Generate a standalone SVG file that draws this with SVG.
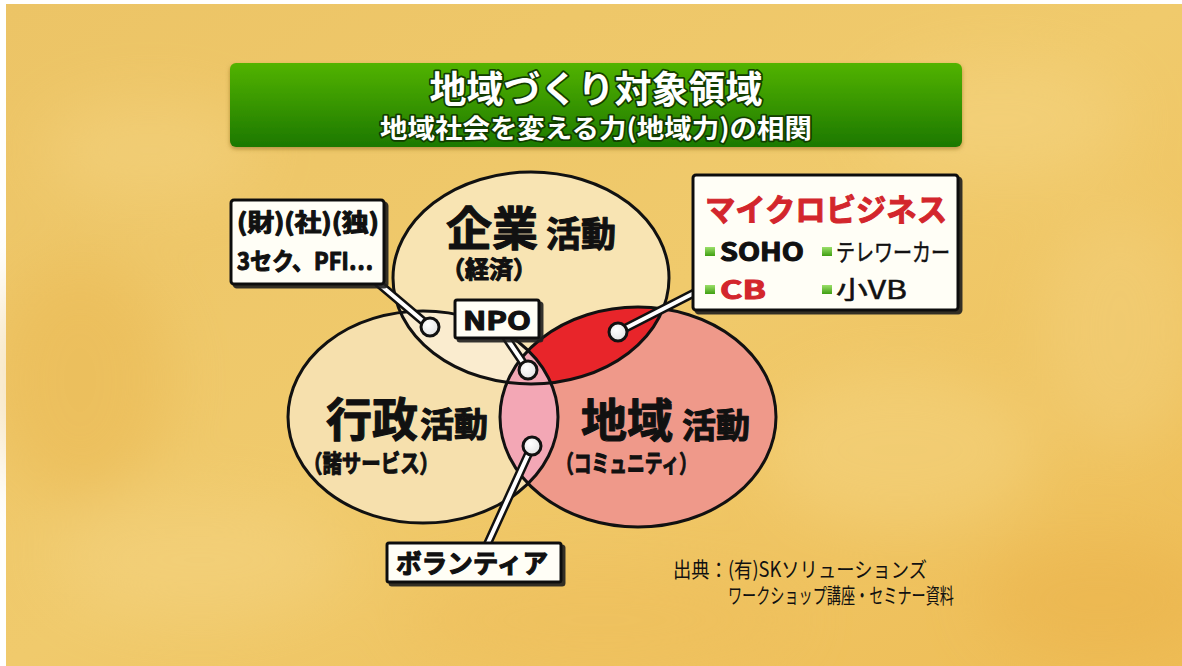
<svg xmlns="http://www.w3.org/2000/svg" width="1182" height="666" viewBox="0 0 1182 666">
<defs>
  <linearGradient id="bg" x1="0" y1="0" x2="1" y2="1">
    <stop offset="0" stop-color="#ecc466"/>
    <stop offset="0.5" stop-color="#f0ca6c"/>
    <stop offset="1" stop-color="#eebd56"/>
  </linearGradient>
  <filter id="blur" x="-50%" y="-50%" width="200%" height="200%"><feGaussianBlur stdDeviation="30"/></filter>
  <linearGradient id="green" x1="0" y1="0" x2="0" y2="1">
    <stop offset="0" stop-color="#52b300"/>
    <stop offset="1" stop-color="#1c7800"/>
  </linearGradient>
  <linearGradient id="bullet" x1="0" y1="0" x2="0" y2="1">
    <stop offset="0" stop-color="#9be06a"/>
    <stop offset="1" stop-color="#3f9e12"/>
  </linearGradient>
  <radialGradient id="dotg" cx="0.4" cy="0.35" r="0.7">
    <stop offset="0" stop-color="#ffffff"/>
    <stop offset="1" stop-color="#e2e2e2"/>
  </radialGradient>
  <clipPath id="cK"><ellipse cx="531" cy="278" rx="138" ry="106"/></clipPath>
  <clipPath id="cG"><ellipse cx="423" cy="417" rx="135" ry="106"/></clipPath>
  <filter id="shadow" x="-10%" y="-10%" width="130%" height="140%"><feDropShadow dx="3" dy="3" stdDeviation="0.6" flood-color="#1a1a1a" flood-opacity="0.9"/></filter>
  <filter id="tshadow" x="-5%" y="-10%" width="110%" height="130%"><feDropShadow dx="0" dy="2" stdDeviation="2" flood-color="#7a5a10" flood-opacity="0.5"/></filter>
  <style>
    .jp { font-family: "Noto Sans CJK JP", "Noto Sans", sans-serif; }
    .b { font-weight: 700; }
    .ttl { fill: #ffffff; stroke: #123d00; stroke-width: 3.5; paint-order: stroke; stroke-linejoin: round; font-weight: 700; }
    .ell { fill: none; stroke: #111; stroke-width: 3; }
    .box { fill: #fffef6; stroke: #111; stroke-width: 3; filter: url(#shadow); }
    .cb { stroke: #111; stroke-width: 9; stroke-linecap: round; fill: none; }
    .cw { stroke: #fff; stroke-width: 4; stroke-linecap: round; fill: none; }
    .dot { fill: url(#dotg); stroke: #111; stroke-width: 3; }
    .blk { fill: #111; }
    .hv { stroke: #111; stroke-width: 1.1; stroke-linejoin: round; }
    .red { fill: #d3262c; stroke: #d3262c; stroke-width: 1; stroke-linejoin: round; }
    .bul { fill: url(#bullet); }
  </style>
</defs>

<!-- background -->
<rect x="0" y="0" width="1182" height="666" fill="#ffffff"/>
<rect x="6" y="4" width="1176" height="662" fill="url(#bg)"/>
<g filter="url(#blur)" opacity="0.45">
  <ellipse cx="150" cy="150" rx="110" ry="50" fill="#f5d584"/>
  <ellipse cx="1000" cy="120" rx="130" ry="60" fill="#f5d584"/>
  <ellipse cx="900" cy="450" rx="140" ry="80" fill="#f5d786"/>
  <ellipse cx="200" cy="560" rx="150" ry="60" fill="#f4d484"/>
  <ellipse cx="1100" cy="600" rx="120" ry="60" fill="#eab04a"/>
  <ellipse cx="80" cy="380" rx="90" ry="120" fill="#e9b650"/>
  <ellipse cx="600" cy="620" rx="200" ry="50" fill="#eebd5a"/>
  <ellipse cx="1120" cy="330" rx="80" ry="120" fill="#f3d280"/>
</g>

<!-- title -->
<g id="title">
  <rect x="230" y="63" width="732" height="84" rx="6" fill="url(#green)" filter="url(#tshadow)"/>
  <text class="jp ttl" x="596" y="103" font-size="37" text-anchor="middle">地域づくり対象領域</text>
  <text class="jp ttl" x="596" y="138" font-size="26" text-anchor="middle" textLength="432" lengthAdjust="spacingAndGlyphs">地域社会を変える力(地域力)の相関</text>
</g>

<!-- circles -->
<g id="circles">
  <ellipse cx="531" cy="278" rx="138" ry="106" fill="#f8e4b3"/>
  <ellipse cx="423" cy="417" rx="135" ry="106" fill="#f6e0ad"/>
  <g clip-path="url(#cK)"><ellipse cx="423" cy="417" rx="135" ry="106" fill="#faeccf"/></g>
  <ellipse cx="638" cy="417" rx="138" ry="110" fill="#ef998a"/>
  <g clip-path="url(#cK)"><ellipse cx="638" cy="417" rx="138" ry="110" fill="#e8252a"/></g>
  <g clip-path="url(#cG)"><ellipse cx="638" cy="417" rx="138" ry="110" fill="#f3a7b5"/></g>
  <ellipse class="ell" cx="531" cy="278" rx="138" ry="106"/>
  <ellipse class="ell" cx="423" cy="417" rx="135" ry="106"/>
  <ellipse class="ell" cx="638" cy="417" rx="138" ry="110"/>
</g>

<g id="node-kigyo">
  <text class="jp b blk hv" x="446" y="245" font-size="46">企業</text>
  <text class="jp b blk hv" x="546" y="247" font-size="35">活動</text>
  <text class="jp b blk hv" x="441" y="278" font-size="24">（経済）</text>
</g>
<g id="node-gyosei">
  <text class="jp b blk hv" x="326" y="436" font-size="46">行政</text>
  <text class="jp b blk hv" x="420" y="437" font-size="34">活動</text>
  <text class="jp b blk hv" x="303" y="472" font-size="24" textLength="136" lengthAdjust="spacingAndGlyphs">（諸サービス）</text>
</g>
<g id="node-chiiki">
  <text class="jp b blk hv" x="581" y="437" font-size="46">地域</text>
  <text class="jp b blk hv" x="682" y="438" font-size="34">活動</text>
  <text class="jp b blk hv" x="556" y="472" font-size="24" textLength="141" lengthAdjust="spacingAndGlyphs">（コミュニティ）</text>
</g>

<!-- connectors -->
<g id="connectors">
  <path class="cb" d="M378 283 L430 327"/>
  <path class="cw" d="M378 283 L430 327"/>
  <path class="cb" d="M505 336 L528 370"/>
  <path class="cw" d="M505 336 L528 370"/>
  <path class="cb" d="M618 332 L700 290"/>
  <path class="cw" d="M618 332 L700 290"/>
  <path class="cb" d="M532 446 L487 545"/>
  <path class="cw" d="M532 446 L487 545"/>
  <circle class="dot" cx="430" cy="327" r="9"/>
  <circle class="dot" cx="528" cy="370" r="9"/>
  <circle class="dot" cx="618" cy="332" r="9"/>
  <circle class="dot" cx="532" cy="446" r="9"/>
</g>

<!-- label boxes -->
<g id="box-houjin">
  <rect class="box" x="231" y="200" width="153" height="84" rx="3"/>
  <text class="jp b blk hv" x="237" y="231" font-size="24" textLength="142" lengthAdjust="spacingAndGlyphs">(財)(社)(独)</text>
  <text class="jp b blk hv" x="237" y="270" font-size="24" textLength="136" lengthAdjust="spacingAndGlyphs">3セク、PFI…</text>
</g>
<g id="box-npo">
  <rect class="box" x="455" y="300" width="84" height="38" rx="2"/>
  <text class="jp b blk hv" x="463" y="330" font-size="26" textLength="68" lengthAdjust="spacingAndGlyphs">NPO</text>
</g>
<g id="box-micro">
  <rect class="box" x="693" y="175" width="265" height="135" rx="3"/>
  <text class="jp b red" x="705" y="221" font-size="31" textLength="242" lengthAdjust="spacingAndGlyphs">マイクロビジネス</text>
  <rect class="bul" x="705" y="247" width="10" height="9"/>
  <text class="jp b blk hv" x="720" y="261" font-size="25" textLength="84" lengthAdjust="spacingAndGlyphs">SOHO</text>
  <rect class="bul" x="822" y="247" width="10" height="9"/>
  <text class="jp blk" x="836" y="261" font-size="24" textLength="114" lengthAdjust="spacingAndGlyphs" stroke="#111" stroke-width="0.5">テレワーカー</text>
  <rect class="bul" x="705" y="285" width="10" height="9"/>
  <text class="jp b red" x="720" y="299" font-size="25" textLength="46" lengthAdjust="spacingAndGlyphs">CB</text>
  <rect class="bul" x="822" y="285" width="10" height="9"/>
  <text class="jp blk" x="836" y="299" font-size="25" textLength="71" lengthAdjust="spacingAndGlyphs" stroke="#111" stroke-width="0.5">小VB</text>
</g>
<g id="box-volunteer">
  <rect class="box" x="387" y="543" width="174" height="39" rx="2"/>
  <text class="jp b blk hv" x="396" y="573" font-size="26" textLength="152" lengthAdjust="spacingAndGlyphs">ボランティア</text>
</g>

<!-- source -->
<g id="source">
  <text class="jp blk" x="673" y="577" font-size="21" textLength="254" lengthAdjust="spacingAndGlyphs">出典：(有)SKソリューションズ</text>
  <text class="jp blk" x="728" y="603" font-size="21" textLength="226" lengthAdjust="spacingAndGlyphs">ワークショップ講座・セミナー資料</text>
</g>
</svg>
